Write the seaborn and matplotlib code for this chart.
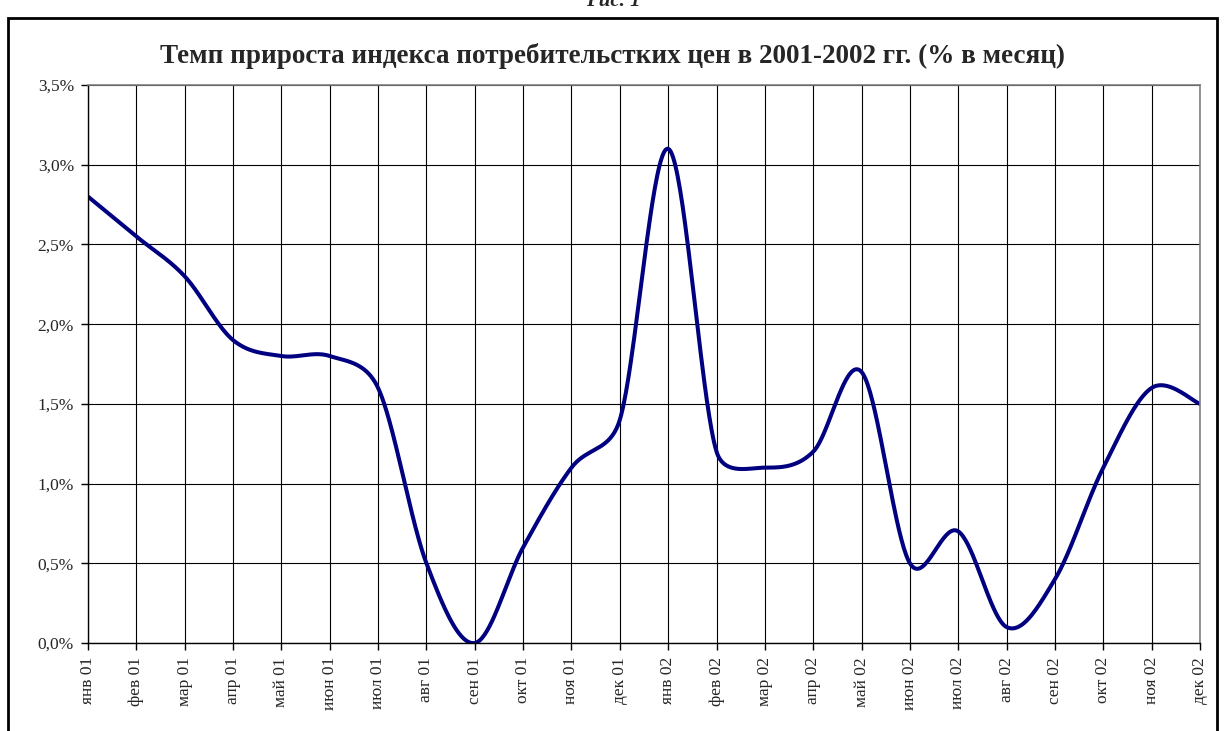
import numpy as np
import pandas as pd
import matplotlib
matplotlib.use("Agg")
import matplotlib.pyplot as plt
import seaborn as sns
from matplotlib.patches import Rectangle

# Данные: темп прироста ИПЦ, % в месяц
meses = ["янв 01", "фев 01", "мар 01", "апр 01", "май 01", "июн 01",
         "июл 01", "авг 01", "сен 01", "окт 01", "ноя 01", "дек 01",
         "янв 02", "фев 02", "мар 02", "апр 02", "май 02", "июн 02",
         "июл 02", "авг 02", "сен 02", "окт 02", "ноя 02", "дек 02"]
valores = [2.8, 2.55, 2.3, 1.9, 1.8, 1.8,
           1.6, 0.5, 0.0, 0.6, 1.1, 1.4,
           3.1, 1.2, 1.1, 1.2, 1.7, 0.5,
           0.7, 0.1, 0.4, 1.1, 1.6, 1.5]
yticks = [0.0, 0.5, 1.0, 1.5, 2.0, 2.5, 3.0, 3.5]


def suavizar(x, y, sx, sy, n=40):
    # suavizado al estilo Excel: Bezier con brazos de 1/6, limitados a la mitad del tramo
    P = np.column_stack([np.asarray(x, float) * sx, np.asarray(y, float) * sy])
    m = len(P)
    out = []
    for i in range(m - 1):
        p0 = P[max(i - 1, 0)]
        p1 = P[i]
        p2 = P[i + 1]
        p3 = P[min(i + 2, m - 1)]
        d12 = np.linalg.norm(p2 - p1)
        a1 = (p2 - p0) / 6
        a2 = (p3 - p1) / 6
        if np.linalg.norm(a1) > d12 / 2:
            a1 = a1 * (d12 / 2) / np.linalg.norm(a1)
        if np.linalg.norm(a2) > d12 / 2:
            a2 = a2 * (d12 / 2) / np.linalg.norm(a2)
        c1 = p1 + a1
        c2 = p2 - a2
        t = np.linspace(0, 1, n, endpoint=(i == m - 2))[:, None]
        pts = (1 - t) ** 3 * p1 + 3 * (1 - t) ** 2 * t * c1 + 3 * (1 - t) * t ** 2 * c2 + t ** 3 * p2
        out.append(pts)
    out = np.vstack(out)
    return out[:, 0] / sx, out[:, 1] / sy


idx = np.arange(len(meses))
# escala en píxeles: ~48.3 px por mes, ~159.4 px por punto porcentual
xs, ys = suavizar(idx, valores, 48.35, 159.4)
df = pd.DataFrame({"x": xs, "y": ys})

sns.set_theme(style="white")
plt.rcParams["font.family"] = ["Liberation Serif", "DejaVu Serif"]

fig = plt.figure(figsize=(12.26, 7.31), dpi=100)
ax = fig.add_axes([88 / 1226, 1 - 643 / 731, (1200 - 88) / 1226, (643 - 85) / 731])

sns.lineplot(data=df, x="x", y="y", sort=False, color="#000080", linewidth=2.9, ax=ax)

ax.set_xlim(0, len(meses) - 1)
ax.set_ylim(0, 3.5)
ax.set_xticks(idx)
ax.set_xticklabels(meses, rotation=90, fontsize=12.5)
ax.set_yticks(yticks)
ax.set_yticklabels([f"{v:.1f}%".replace(".", ",") for v in yticks], fontsize=12.5)
ax.set_xlabel("")
ax.set_ylabel("")
ax.grid(True, color="black", linewidth=0.8)
ax.set_axisbelow(True)
ax.tick_params(axis="both", direction="out", length=5, width=1, color="black",
               bottom=True, left=True, pad=5)
for s in ["top", "right"]:
    ax.spines[s].set_color("#808080")
    ax.spines[s].set_linewidth(1.2)
for s in ["left", "bottom"]:
    ax.spines[s].set_color("black")
    ax.spines[s].set_linewidth(1.0)

fig.text(0.5, 1 - 56 / 731, "Темп прироста индекса потребительстких цен в 2001-2002 гг. (% в месяц)",
         ha="center", va="center", fontsize=19.5, fontweight="bold")
fig.text(0.5, 1 - 11 / 731, "Рис. 1", ha="center", va="bottom", fontsize=15,
         fontweight="bold", fontstyle="italic")

fig.add_artist(Rectangle((8 / 1226, -0.05), (1217 - 8) / 1226, 1.05 - 18 / 731,
                         transform=fig.transFigure, fill=False, edgecolor="black",
                         linewidth=2, clip_on=False))

plt.savefig("out.png", dpi=100)
